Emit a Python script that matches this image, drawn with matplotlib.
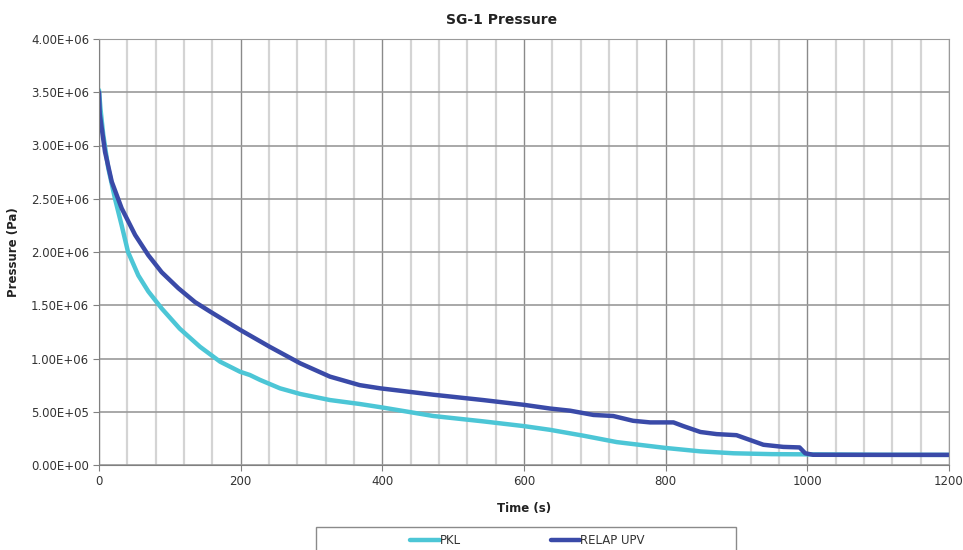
import numpy as np
import matplotlib
matplotlib.use("Agg")
import matplotlib.pyplot as plt
from matplotlib.patches import Rectangle
from matplotlib.ticker import FuncFormatter, MultipleLocator

# values (time in s, pressure in Pa)
pkl_time = [0, 2, 6, 13, 22.6, 32, 41, 55.5, 69.6, 88.5, 114, 142.6, 171, 199,
            213, 227, 255.5, 284, 326, 368, 400, 472, 542, 600, 637, 684, 731,
            800, 849, 896, 950, 1000, 1100, 1200]
pkl_pressure = [3.52e6, 3.35e6, 3.10e6, 2.79e6, 2.50e6, 2.25e6, 2.0e6, 1.78e6,
                1.63e6, 1.47e6, 1.28e6, 1.11e6, 0.97e6, 0.876e6, 0.845e6,
                0.80e6, 0.72e6, 0.667e6, 0.61e6, 0.573e6, 0.54e6, 0.46e6,
                0.41e6, 0.365e6, 0.33e6, 0.275e6, 0.215e6, 0.16e6, 0.128e6,
                0.11e6, 0.102e6, 0.10e6, 0.096e6, 0.095e6]

relap_time = [0, 1, 8.5, 18, 32, 51, 69.6, 88.5, 112, 135.5, 157, 199, 241,
              284, 326, 368, 397, 472, 542, 600, 637, 665, 698, 726, 754, 778,
              811, 825, 849, 872, 900, 919, 938, 966, 989, 997, 1008, 1100,
              1200]
relap_pressure = [3.50e6, 3.30e6, 2.94e6, 2.66e6, 2.41e6, 2.16e6, 1.97e6,
                  1.81e6, 1.66e6, 1.53e6, 1.44e6, 1.27e6, 1.11e6, 0.955e6,
                  0.83e6, 0.75e6, 0.72e6, 0.66e6, 0.61e6, 0.565e6, 0.53e6,
                  0.51e6, 0.47e6, 0.46e6, 0.415e6, 0.40e6, 0.40e6, 0.365e6,
                  0.31e6, 0.29e6, 0.28e6, 0.235e6, 0.19e6, 0.17e6, 0.165e6,
                  0.11e6, 0.096e6, 0.095e6, 0.095e6]

series_labels = ["PKL", "RELAP UPV"]
series_colors = ["#4cc6d6", "#3a4aa8"]

fig = plt.figure(figsize=(9.63, 5.5), dpi=100)
ax = fig.add_axes([99 / 963, 1 - 465 / 550, 850 / 963, 426 / 550])

ax.set_xlim(0, 1200)
ax.set_ylim(0, 4e6)
ax.xaxis.set_major_locator(MultipleLocator(200))
ax.xaxis.set_minor_locator(MultipleLocator(40))
ax.yaxis.set_major_locator(MultipleLocator(5e5))
ax.yaxis.set_major_formatter(FuncFormatter(lambda v, p: f"{v:.2E}"))

ax.grid(which="minor", axis="x", color="#d4d4d4", lw=1.6)
ax.grid(which="major", axis="x", color="#8a8a8a", lw=1.0)
ax.grid(which="major", axis="y", color="#9a9a9a", lw=1.2)
ax.set_axisbelow(True)

for s in ax.spines.values():
    s.set_color("#9a9a9a")
ax.spines["left"].set_color("#808080")
ax.spines["bottom"].set_color("#808080")

ax.tick_params(which="major", length=4, color="#808080", labelsize=8.5,
               labelcolor="#333333")
ax.tick_params(which="minor", length=0)
ax.tick_params(axis="y", pad=3)

l1, = ax.plot(pkl_time, pkl_pressure, color=series_colors[0], lw=3.2,
              solid_joinstyle="round", solid_capstyle="round")
l2, = ax.plot(relap_time, relap_pressure, color=series_colors[1], lw=3.2,
              solid_joinstyle="round", solid_capstyle="round")

# title sits centred on the whole chart area, not on the plot box
fig.text(502 / 963, 1 - 20 / 550, "SG-1 Pressure", fontsize=10,
         fontweight="bold", color="#222222", ha="center", va="center")
ax.set_xlabel("Time (s)", fontsize=8.5, fontweight="bold", color="#222222",
              labelpad=10)
ax.set_ylabel("Pressure (Pa)", fontsize=8.5, fontweight="bold",
              color="#222222", labelpad=8)

# legend box, cut off by the bottom of the figure like in the source
fig.patches.append(Rectangle((316 / 963, -0.05), 420 / 963, 0.05 + 23 / 550,
                             transform=fig.transFigure, fill=False,
                             ec="#8a8a8a", lw=1.0))
fig.legend([l1, l2], series_labels, loc="center", ncol=2, frameon=False,
           bbox_to_anchor=(527.5 / 963, 1 - 541 / 550), fontsize=8.5,
           handlelength=2.5, handletextpad=0.0, columnspacing=7.6,
           labelcolor="#333333")

fig.savefig("out.png", dpi=100)
